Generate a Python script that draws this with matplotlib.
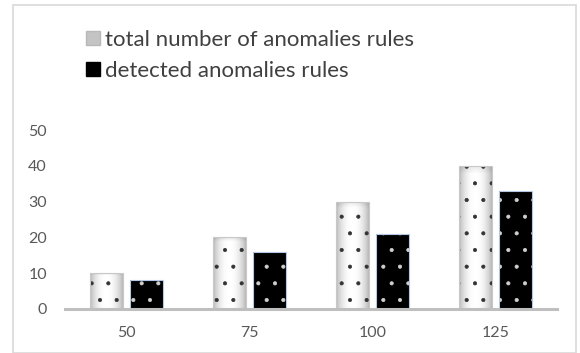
import numpy as np
import matplotlib.pyplot as plt
from matplotlib.patches import Rectangle
from matplotlib.lines import Line2D

categories = ['50', '75', '100', '125']
total_rules = [10, 20, 30, 40]
detected_rules = [8, 16, 21, 33]
y_ticks = [0, 10, 20, 30, 40, 50]

plt.rcParams['font.family'] = ['Lato', 'DejaVu Sans']
plt.rcParams['hatch.linewidth'] = 0.5

fig = plt.figure(figsize=(5.8, 3.53), dpi=100)
fig.patch.set_facecolor('white')
# outer frame
fig.add_artist(Rectangle((13 / 580, 0), 1 - 17 / 580, 1 - 5 / 353,
                         transform=fig.transFigure, fill=False,
                         edgecolor='#d9d9d9', lw=1.2))

ax = fig.add_axes([65 / 580, 44 / 353, 492 / 580, 179 / 353])
x = np.arange(len(categories))
w = 0.265
off = 0.165

# gradient image for the grey bars: white centre, grey edges
gx = np.linspace(-1, 1, 60)
gy = np.linspace(0, 1, 200)
GX, GY = np.meshgrid(gx, gy)
grad = 1 - 0.27 * np.abs(GX) ** 2.2 - 0.1 * np.clip((GY - 0.94) / 0.06, 0, 1)

for xi, v in zip(x, total_rules):
    x0 = xi - off - w / 2
    im = ax.imshow(grad, cmap='gray', vmin=0, vmax=1, origin='lower',
                   extent=[x0, x0 + w, 0, v], aspect='auto', zorder=2,
                   interpolation='bilinear')
    clip = Rectangle((x0, 0), w, v, transform=ax.transData)
    im.set_clip_path(clip)

ax.bar(x - off, total_rules, w, facecolor='none', edgecolor='#333333',
       hatch='.', lw=0, zorder=3)
ax.bar(x - off, total_rules, w, facecolor='none', edgecolor='#c8c8c8',
       lw=0.8, zorder=4)

ax.bar(x + off, detected_rules, w, facecolor='black', edgecolor='none', zorder=2)
ax.bar(x + off, detected_rules, w, facecolor='none', edgecolor='#d0d0d0',
       hatch='.', lw=0, zorder=3)
ax.bar(x + off, detected_rules, w, facecolor='none', edgecolor='#b4c7e7',
       lw=0.8, zorder=4)

ax.set_xlim(-0.5, len(categories) - 0.5)
ax.set_ylim(0, 50)
ax.set_xticks(x)
ax.set_xticklabels(categories)
ax.set_yticks(y_ticks)
ax.tick_params(length=0, labelsize=11.5, colors='#595959')
ax.tick_params(axis='x', pad=12)
ax.tick_params(axis='y', pad=13)
for s in ['top', 'right', 'left']:
    ax.spines[s].set_visible(False)
ax.spines['bottom'].set_color('#bfbfbf')
ax.spines['bottom'].set_linewidth(2.2)
ax.spines['bottom'].set_zorder(5)

handles = [
    Line2D([], [], ls='none', marker='s', markersize=10,
           markerfacecolor='#c4c4c4', markeredgecolor='#b8b8b8'),
    Line2D([], [], ls='none', marker='s', markersize=10,
           markerfacecolor='black', markeredgecolor='black'),
]
fig.legend(handles, ['total number of anomalies rules', 'detected anomalies rules'],
           loc='upper left', bbox_to_anchor=(76 / 580, 1 - 19 / 353),
           frameon=False, fontsize=16, handlelength=0.5, handletextpad=0.3,
           labelspacing=0.5, labelcolor='#404040', borderpad=0)

fig.savefig('out.png', dpi=100)
